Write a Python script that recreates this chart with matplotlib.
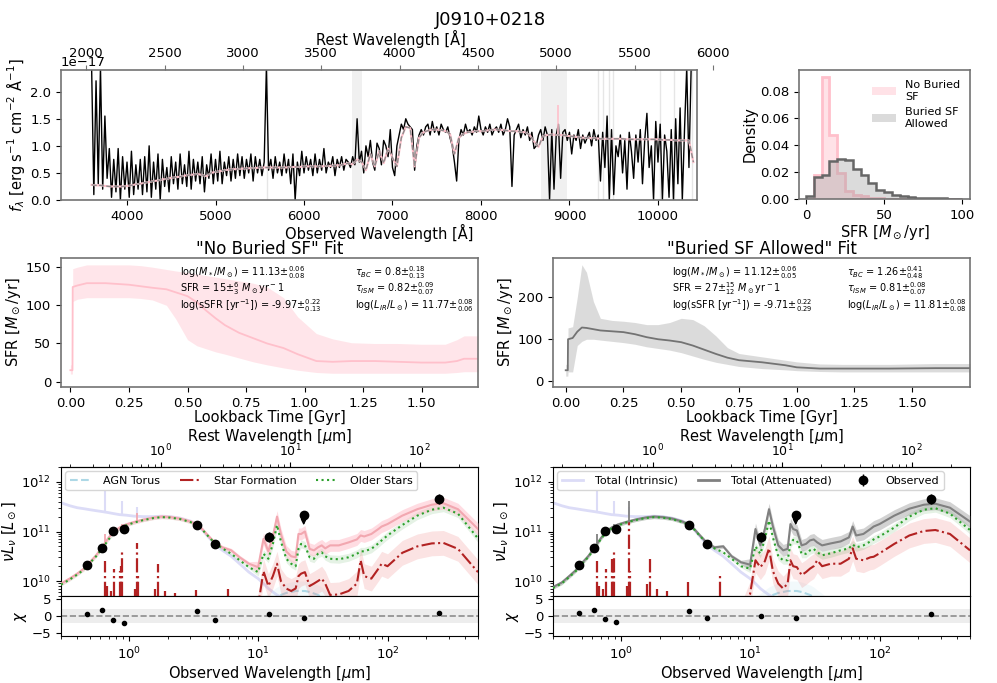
import numpy as np
import matplotlib.pyplot as plt
from matplotlib.lines import Line2D
from matplotlib.patches import Patch

W, H = 997, 683
one_plus_z = 1.77

# ---------------- optical spectrum (units of 1e-17 erg/s/cm2/A) ----------------
spec_wave = np.arange(3600, 10376, 25)
spec_flux = [
    2.45, 0.10, 2.20, 0.30, 2.45, 0.20, 1.55, 0.40,   # 3600
    0.95, 0.05, 0.75, 0.15, 0.95, 0.00, 0.80, 0.20,   # 3800
    0.70, 0.05, 0.90, 0.10, 0.65, 0.20, 0.75, 0.10,   # 4000
    0.80, 0.15, 1.00, 0.05, 0.70, 0.20, 0.85, 0.00,   # 4200
    0.75, 0.25, 0.60, 0.15, 0.80, 0.30, 0.70, 0.20,   # 4400
    0.85, 0.30, 0.65, 0.25, 0.90, 0.20, 0.75, 0.35,   # 4600
    0.70, 0.30, 0.80, 0.15, 0.65, 0.40, 0.85, 0.30,   # 4800
    0.75, 0.35, 0.90, 0.30, 0.70, 0.45, 0.80, 0.35,   # 5000
    0.75, 0.40, 0.85, 0.45, 0.80, 0.40, 0.75, 0.50,   # 5200
    0.85, 0.35, 0.80, 0.50, 0.75, 0.45, 0.70, 2.45,   # 5400
    0.55, 0.75, 0.40, 0.80, 0.50, 0.70, 0.45, 0.85,   # 5600
    0.50, 0.75, 0.30, 0.85, 0.00, 0.70, 0.45, 0.90,   # 5800
    0.50, 0.80, 0.55, 0.75, 0.45, 0.85, 0.50, 0.75,   # 6000
    0.55, 0.95, 0.50, 0.70, 0.60, 0.80, 0.45, 0.75,   # 6200
    0.60, 0.80, 0.55, 0.75, 0.70, 0.60, 0.80, 0.65,   # 6400
    1.50, 0.70, 0.90, 0.50, 1.00, 0.80, 1.10, 0.70,   # 6600
    0.55, 1.05, 0.95, 0.65, 1.10, 1.00, 0.80, 1.30,   # 6800
    0.60, 0.45, 1.00, 1.20, 1.40, 1.30, 1.50, 1.40,   # 7000
    1.35, 1.30, 0.55, 1.00, 1.20, 1.30, 1.20, 1.35,   # 7200
    1.40, 1.20, 1.45, 1.25, 1.35, 1.20, 1.40, 1.30,   # 7400
    1.25, 1.35, 1.15, 1.00, 0.70, 0.35, 1.10, 1.30,   # 7600
    1.20, 1.40, 1.25, 1.30, 1.20, 1.35, 1.25, 1.55,   # 7800
    1.30, 1.20, 1.35, 1.25, 1.40, 1.20, 1.30, 1.35,   # 8000
    1.25, 1.40, 1.20, 1.30, 1.50, 1.35, 0.25, 1.20,   # 8200
    1.30, 1.40, 1.15, 1.30, 1.20, 1.35, 1.10, 1.25,   # 8400
    0.95, 1.00, 1.20, 1.30, 1.10, 1.35, 1.20, 0.00,   # 8600
    1.30, 0.20, 1.20, 1.40, 0.40, 1.25, 1.30, 1.10,   # 8800
    1.25, 0.85, 1.20, 1.10, 1.30, 0.95, 1.20, 1.05,   # 9000
    1.15, 1.25, 1.00, 1.30, 1.10, 1.20, 0.35, 1.25,   # 9200
    0.60, 1.55, 0.00, 1.30, 0.10, 1.00, 0.80, 1.20,   # 9400
    0.50, 1.10, 0.20, 1.25, 0.90, 0.40, 1.20, 0.70,   # 9600
    1.30, 0.30, 1.10, 1.60, 0.60, 1.00, 0.00, 1.45,   # 9800
    0.70, 1.40, 0.00, 1.20, 0.90, 0.05, 1.30, 0.00,   # 10000
    1.50, 0.30, 1.70, 0.00, 1.30, 2.45, 0.60, 2.45,   # 10200
]
model_wave = np.arange(3600, 10401, 50)
model_flux = [
    0.28, 0.27, 0.27, 0.26, 0.25, 0.25, 0.25, 0.25, 0.26, 0.27,   # 3600
    0.29, 0.30, 0.32, 0.33, 0.35, 0.36, 0.38, 0.39, 0.41, 0.42,   # 4100
    0.43, 0.45, 0.46, 0.47, 0.48, 0.46, 0.44, 0.50, 0.52, 0.53,   # 4600
    0.55, 0.56, 0.57, 0.57, 0.58, 0.58, 0.59, 0.59, 0.60, 0.60,   # 5100
    0.60, 0.60, 0.60, 0.60, 0.60, 0.61, 0.61, 0.61, 0.62, 0.62,   # 5600
    0.62, 0.62, 0.62, 0.63, 0.63, 0.64, 0.64, 0.66, 0.68, 0.66,   # 6100
    0.75, 0.70, 0.55, 0.85, 0.62, 0.90, 0.68, 0.95, 0.78, 0.62,   # 6600
    1.15, 1.35, 1.33, 0.62, 1.15, 1.25, 1.28, 1.30, 1.30, 1.29,   # 7100
    1.27, 1.22, 0.85, 1.15, 1.22, 1.25, 1.26, 1.27, 1.27, 1.28,   # 7600
    1.29, 1.30, 1.30, 1.29, 1.28, 1.27, 1.27, 1.26, 1.25, 1.20,   # 8100
    1.08, 0.98, 1.18, 1.20, 1.21, 1.20, 1.20, 1.19, 1.18, 1.17,   # 8600
    1.16, 1.15, 1.15, 1.14, 1.14, 1.13, 1.13, 1.13, 1.13, 1.13,   # 9100
    1.13, 1.12, 1.12, 1.12, 1.12, 1.12, 1.12, 1.12, 1.12, 1.11,   # 9600
    1.11, 1.11, 1.10, 1.10, 1.10, 1.10, 0.70,                     # 10100
]
oiii_wave = 8870
oiii_peak = 1.75
mask_spans = [(6540, 6650), (8675, 8975)]
mask_lines = [5577, 9322, 9379, 9446, 9492, 10023, 10180, 10390]
rest_ticks = [2000, 2500, 3000, 3500, 4000, 4500, 5000, 5500, 6000]

# ---------------- SFR posterior histograms ----------------
hist_edges = np.arange(0, 101, 5)
hist_noburied = [0.0, 0.018, 0.091, 0.048, 0.0195, 0.0057, 0.003, 0.002, 0.001, 0.0005,
                 0.0003, 0, 0, 0, 0, 0, 0, 0, 0, 0]
hist_buried = [0.002, 0.0165, 0.018, 0.028, 0.030, 0.029, 0.0222, 0.018, 0.012, 0.007,
               0.005, 0.003, 0.002, 0.0015, 0.001, 0.0008, 0.0006, 0.0004, 0.0003, 0.0002]

# ---------------- star formation histories ----------------
sfh_t_nb = [0.0, 0.009, 0.01, 0.03, 0.07, 0.15, 0.25, 0.30, 0.35, 0.41, 0.45, 0.50, 0.54, 0.58, 0.62,
            0.66, 0.72, 0.78, 0.84, 0.91, 0.97, 1.05, 1.12, 1.20, 1.30, 1.40, 1.50, 1.60, 1.65, 1.68, 1.74]
sfh_med_nb = [15, 15, 124, 126, 129, 129, 127, 125, 123, 121, 117, 112, 104, 93, 83,
              74, 64, 57, 50, 44, 36, 27, 26, 27, 27, 26, 25, 25, 27, 30, 30]
sfh_lo_nb = [10, 10, 105, 108, 110, 110, 110, 109, 107, 100, 82, 55, 47, 43, 39,
             36, 31, 26, 22, 18, 15, 12, 11, 11, 11, 11, 11, 11, 12, 13, 13]
sfh_hi_nb = [22, 22, 148, 150, 153, 153, 153, 152, 150, 147, 145, 143, 141, 139, 137,
             135, 132, 129, 124, 110, 85, 63, 56, 51, 50, 50, 49, 49, 55, 60, 60]

sfh_t_b = [0.0, 0.009, 0.01, 0.03, 0.05, 0.07, 0.09, 0.12, 0.15, 0.20, 0.25, 0.30, 0.35, 0.40, 0.45,
           0.50, 0.55, 0.60, 0.65, 0.70, 0.75, 0.85, 0.95, 1.00, 1.10, 1.20, 1.40, 1.60, 1.75]
sfh_med_b = [26, 26, 100, 103, 118, 128, 127, 124, 121, 119, 117, 112, 105, 100, 97,
             93, 85, 75, 65, 56, 50, 45, 38, 33, 30, 30, 30, 31, 31]
sfh_lo_b = [12, 12, 22, 22, 85, 95, 100, 100, 98, 95, 92, 88, 82, 78, 74,
            68, 60, 52, 45, 40, 35, 30, 27, 25, 23, 22, 22, 22, 22]
sfh_hi_b = [40, 40, 127, 130, 200, 278, 260, 190, 150, 145, 143, 140, 135, 135, 140,
            150, 147, 132, 108, 80, 66, 58, 50, 46, 41, 40, 40, 42, 42]

text_nb = [r"log($M_*/M_\odot$) = 11.13$\pm^{0.06}_{0.08}$",
           r"SFR = 15$\pm^{6}_{3}$ $M_\odot$yr$^-1$",
           r"log(sSFR [yr$^{-1}$]) = -9.97$\pm^{0.22}_{0.13}$",
           r"$\tau_{BC}$ = 0.8$\pm^{0.18}_{0.13}$",
           r"$\tau_{ISM}$ = 0.82$\pm^{0.09}_{0.07}$",
           r"log($L_{IR}/L_\odot$) = 11.77$\pm^{0.08}_{0.06}$"]
text_b = [r"log($M_*/M_\odot$) = 11.12$\pm^{0.06}_{0.05}$",
          r"SFR = 27$\pm^{15}_{12}$ $M_\odot$yr$^-1$",
          r"log(sSFR [yr$^{-1}$]) = -9.71$\pm^{0.22}_{0.29}$",
          r"$\tau_{BC}$ = 1.26$\pm^{0.41}_{0.48}$",
          r"$\tau_{ISM}$ = 0.81$\pm^{0.08}_{0.07}$",
          r"log($L_{IR}/L_\odot$) = 11.81$\pm^{0.08}_{0.08}$"]

# ---------------- SEDs (observed-frame micron, log10 nuLnu / Lsun) ----------------
sed_wave = [0.30, 0.35, 0.40, 0.45, 0.50,
            0.56, 0.63, 0.70, 0.77, 0.85,
            0.95, 1.1, 1.3, 1.55, 1.8,
            2.1, 2.5, 3.0, 3.5, 4.0,
            4.6, 5.3, 6.2, 7.2, 8.5,
            10.0, 11.0, 12.0, 13.0, 14.0,
            15.0, 16.5, 18.0, 19.5, 20.5,
            21.5, 23.0, 25.0, 27.0, 29.0,
            31.0, 33.0, 36.0, 42.0, 50.0,
            58.0, 62.0, 66.0, 75.0, 85.0,
            90.0, 100.0, 130.0, 170.0, 220.0,
            270.0, 350.0, 500.0]

sed_intrinsic = [11.58, 11.52, 11.48, 11.46, 11.44,
                 11.42, 11.40, 11.38, 11.36, 11.34,
                 11.33, 11.31, 11.30, 11.30, 11.31,
                 11.30, 11.27, 11.21, 11.11, 10.93,
                 10.75, 10.62, 10.50, 10.35, 10.18,
                 10.05, 9.95, 9.85, 9.78, 9.72,
                 9.68, 9.62, 9.55, 9.50, 9.45,
                 9.42, 9.40, 9.35, 9.30, 9.25,
                 9.20, 9.15, 9.10, 9.00, 9.00,
                 9.00, 9.00, 9.00, 9.00, 9.00,
                 9.00, 9.00, 9.00, 9.00, 9.00,
                 9.00, 9.00, 9.00]
sed_agn = [9.0, 9.0, 9.0, 9.0, 9.0,
           9.0, 9.0, 9.0, 9.0, 9.0,
           9.0, 9.0, 9.0, 9.0, 9.0,
           9.0, 9.0, 9.0, 9.0, 9.0,
           9.0, 9.0, 9.0, 9.05, 9.2,
           9.4, 9.5, 9.55, 9.62, 9.68,
           9.72, 9.76, 9.78, 9.80, 9.80,
           9.80, 9.80, 9.78, 9.75, 9.72,
           9.68, 9.62, 9.55, 9.40, 9.20,
           9.0, 9.0, 9.0, 9.0, 9.0,
           9.0, 9.0, 9.0, 9.0, 9.0,
           9.0, 9.0, 9.0]

# "No Buried SF" fit
sed_tot_nb = [9.95, 10.05, 10.15, 10.25, 10.38,
              10.52, 10.70, 10.88, 11.00, 11.08,
              11.14, 11.19, 11.24, 11.28, 11.30,
              11.29, 11.26, 11.20, 11.12, 10.95,
              10.78, 10.68, 10.62, 10.48, 10.35,
              10.28, 10.85, 10.60, 10.90, 11.30,
              10.95, 10.60, 10.50, 10.48, 10.95,
              10.95, 11.00, 10.65, 10.62, 10.68,
              10.72, 10.66, 10.72, 10.72, 10.78,
              10.84, 10.92, 10.90, 10.95, 11.05,
              11.10, 11.15, 11.32, 11.45, 11.54,
              11.57, 11.45, 11.05]
sed_old_nb = [9.93, 10.03, 10.13, 10.23, 10.36,
              10.50, 10.67, 10.84, 10.97, 11.06,
              11.12, 11.18, 11.23, 11.27, 11.29,
              11.28, 11.25, 11.19, 11.11, 10.94,
              10.77, 10.66, 10.55, 10.42, 10.28,
              10.18, 10.55, 10.45, 10.75, 11.13,
              10.80, 10.45, 10.35, 10.30, 10.65,
              10.75, 10.72, 10.48, 10.45, 10.55,
              10.58, 10.50, 10.45, 10.44, 10.48,
              10.55, 10.60, 10.60, 10.65, 10.76,
              10.82, 10.92, 11.13, 11.32, 11.44,
              11.48, 11.36, 10.86]
sed_sf_nb = [9.0, 9.0, 9.0, 9.0, 9.0,
             9.0, 9.0, 9.0, 9.0, 9.0,
             9.0, 9.0, 9.0, 9.0, 9.0,
             9.0, 9.0, 9.0, 9.0, 9.0,
             9.0, 9.0, 9.0, 9.1, 9.3,
             9.5, 10.20, 9.90, 10.10, 10.35,
             10.00, 9.85, 9.80, 9.85, 10.10,
             10.15, 10.18, 9.90, 9.95, 10.00,
             10.05, 9.95, 9.72, 9.73, 9.80,
             9.95, 10.42, 10.10, 10.05, 10.25,
             10.35, 10.30, 10.57, 10.70, 10.76,
             10.77, 10.65, 10.18]

# "Buried SF Allowed" fit
sed_tot_b = [9.88, 9.97, 10.10, 10.22, 10.36,
             10.50, 10.68, 10.86, 11.00, 11.08,
             11.14, 11.19, 11.24, 11.28, 11.30,
             11.29, 11.26, 11.20, 11.12, 10.95,
             10.78, 10.68, 10.70, 10.50, 10.38,
             10.33, 11.05, 10.72, 11.05, 11.45,
             11.10, 10.72, 10.62, 10.65, 11.15,
             11.05, 11.02, 10.72, 10.75, 10.82,
             10.84, 10.78, 10.72, 10.76, 10.80,
             10.88, 11.10, 10.92, 10.95, 11.05,
             11.10, 11.15, 11.32, 11.46, 11.54,
             11.56, 11.48, 11.20]
sed_old_b = [9.86, 9.95, 10.08, 10.20, 10.34,
             10.48, 10.66, 10.84, 10.98, 11.06,
             11.12, 11.18, 11.23, 11.27, 11.29,
             11.28, 11.25, 11.19, 11.11, 10.94,
             10.77, 10.66, 10.58, 10.45, 10.30,
             10.25, 10.70, 10.55, 10.85, 11.22,
             10.88, 10.50, 10.42, 10.42, 10.75,
             10.83, 10.82, 10.55, 10.55, 10.62,
             10.65, 10.58, 10.52, 10.56, 10.62,
             10.66, 10.74, 10.68, 10.72, 10.80,
             10.84, 10.90, 11.08, 11.30, 11.44,
             11.47, 11.36, 11.03]
sed_sf_b = [9.0, 9.0, 9.0, 9.0, 9.0,
            9.0, 9.0, 9.0, 9.0, 9.0,
            9.0, 9.0, 9.0, 9.0, 9.0,
            9.0, 9.0, 9.0, 9.0, 9.0,
            9.0, 9.0, 9.0, 9.2, 9.4,
            9.74, 10.42, 10.28, 10.40, 10.66,
            10.20, 9.95, 9.85, 9.95, 10.42,
            10.30, 10.28, 10.12, 10.18, 10.25,
            10.30, 10.42, 10.30, 10.35, 10.35,
            10.45, 10.66, 10.45, 10.42, 10.48,
            10.49, 10.56, 10.75, 10.92, 11.01,
            11.03, 10.95, 10.62]

# band half-widths (dex)
err_tot = [0.04] * 25 + [0.12] * 33
err_old = [0.03] * 25 + [0.08] * 33
err_sf = [0.15] * 25 + [0.25] * 33
err_agn = [0.2] * 58

# emission lines from young stars
line_wave = [0.660, 0.685, 0.726, 0.768, 0.860, 0.878, 0.886, 1.115, 1.162, 1.190,
             1.605, 1.687, 1.917, 2.269, 3.319, 5.84]
line_peak_nb = [10.40, 9.90, 9.80, 10.25, 10.20, 10.30, 10.62, 9.85, 10.76, 10.10,
                9.85, 10.35, 9.80, 9.75, 9.82, 9.85]
line_peak_b = [10.40, 9.90, 9.85, 10.25, 10.45, 10.35, 10.62, 9.90, 11.20, 10.20,
               9.95, 10.45, 9.85, 9.80, 9.98, 10.15]
int_line_wave = [0.660, 0.886, 1.162]
int_line_peak = [11.82, 11.62, 11.50]
tot_line_wave = [0.660, 0.886, 1.162]
tot_line_peak_nb = [10.95, 11.15, 11.38]
tot_line_peak_b = [10.95, 11.15, 11.62]

# photometry
obs_wave = [0.477, 0.623, 0.763, 0.913, 3.37, 4.62, 12.1, 22.5, 250.0]
obs_logL = [10.32, 10.67, 11.01, 11.06, 11.13, 10.75, 10.895, 11.34, 11.65]
obs_err = [0.02, 0.02, 0.02, 0.02, 0.02, 0.02, 0.10, 0.0, 0.10]
obs_uplim = [False, False, False, False, False, False, False, True, False]
chi_nb = [0.55, 1.9, -1.1, -2.0, 1.44, -1.1, 0.55, -0.55, 0.8]
chi_b = [0.9, 1.8, -1.0, -1.8, 1.6, -0.7, 0.1, -0.7, 0.5]


plt.rcParams["font.family"] = "DejaVu Sans"
plt.rcParams["xtick.labelsize"] = 9.5
plt.rcParams["ytick.labelsize"] = 9.5
plt.rcParams["axes.labelsize"] = 10.5

fig = plt.figure(figsize=(W / 100, H / 100), dpi=100)


def px_axes(left, top, right, bottom, **kw):
    return fig.add_axes([left / W, 1 - bottom / H, (right - left) / W, (bottom - top) / H], **kw)


def gray_frame(ax):
    for sp in ax.spines.values():
        sp.set_color("0.45")
        sp.set_linewidth(1.2)


fig.text(0.492, 0.971, "J0910+0218", ha="center", va="center", fontsize=13)

# ---------------- spectrum ----------------
spec_xlim = (3254, 10441)
ax = px_axes(61, 70, 697, 200)
for a, b in mask_spans:
    ax.axvspan(a, b, color="0.94", lw=0, zorder=0)
for x in mask_lines:
    ax.axvline(x, color="0.9", lw=1, zorder=0)
ax.plot(spec_wave, np.array(spec_flux) * 1e-17, color="k", lw=1.0, zorder=2)
ax.plot(model_wave, np.array(model_flux) * 1e-17, color="pink", lw=1.5, zorder=3)
ax.vlines(oiii_wave, 1.2e-17, oiii_peak * 1e-17, color="pink", lw=1.2, zorder=3)
ax.plot(model_wave, np.array(model_flux) * 1e-17, color="0.55", ls="--", lw=1, zorder=4)
ax.set_xlim(spec_xlim)
ax.set_ylim(0, 2.4e-17)
ax.set_yticks(np.arange(0, 2.1, 0.5) * 1e-17)
ax.set_xlabel("Observed Wavelength [Å]", labelpad=1)
ax.set_ylabel(r"$f_\lambda$ [erg s$^{-1}$ cm$^{-2}$ Å$^{-1}$]", labelpad=2)
ax.tick_params(top=False)
gray_frame(ax)

# rest-frame axis: its tick labels run a little past the right edge of the box
top_right = 720
ang_per_px = (spec_xlim[1] - spec_xlim[0]) / (697 - 61)
axt = px_axes(61, 70, top_right, 200, frameon=False)
axt.set_xlim(spec_xlim[0] / one_plus_z,
             (spec_xlim[1] + (top_right - 697) * ang_per_px) / one_plus_z)
axt.set_xticks(rest_ticks)
axt.xaxis.set_ticks_position("top")
axt.xaxis.set_label_position("top")
axt.set_yticks([])
axt.set_xlabel("Rest Wavelength [Å]", labelpad=2)
axt.tick_params(axis="x", color="0.45")

# ---------------- SFR histogram ----------------
axh = px_axes(799, 70, 970, 199)
axh.stairs(hist_noburied, hist_edges, fill=True, color="pink", alpha=0.45)
axh.stairs(hist_noburied, hist_edges, color="pink", lw=2)
axh.stairs(hist_buried, hist_edges, fill=True, color="0.6", alpha=0.35)
axh.stairs(hist_buried, hist_edges, color="0.4", lw=1.8)
axh.set_xlim(-4.5, 105)
axh.set_ylim(0, 0.096)
axh.set_xticks([0, 50, 100])
axh.set_yticks([0, 0.02, 0.04, 0.06, 0.08])
axh.set_xlabel(r"SFR [$M_\odot$/yr]", labelpad=1)
axh.set_ylabel("Density", labelpad=2)
gray_frame(axh)
axh.legend([Patch(facecolor="pink", alpha=0.45), Patch(facecolor="0.6", alpha=0.35)],
           ["No Buried\nSF", "Buried SF\nAllowed"], loc="upper right", frameon=False,
           fontsize=8, handlelength=2.2, labelspacing=0.5)


# ---------------- SFH panels ----------------
def draw_sfh(box, t, med, lo, hi, line_color, band_color, band_alpha, title, texts, ylim, xlim, yticks):
    a = px_axes(*box)
    a.fill_between(t, lo, hi, color=band_color, alpha=band_alpha, lw=0)
    a.plot(t, med, color=line_color, lw=1.3)
    a.set_xlim(xlim)
    a.set_ylim(ylim)
    a.set_yticks(yticks)
    a.set_xticks(np.arange(0, 1.51, 0.25))
    a.set_xlabel("Lookback Time [Gyr]", labelpad=0)
    a.set_ylabel(r"SFR [$M_\odot$/yr]", labelpad=2)
    a.set_title(title, fontsize=12, pad=3)
    gray_frame(a)
    for i, s in enumerate(texts):
        x = 0.285 if i < 3 else 0.705
        y = [0.89, 0.76, 0.63][i % 3]
        a.text(x, y, s, transform=a.transAxes, fontsize=7, va="center")
    return a


draw_sfh((61, 258, 478, 387), sfh_t_nb, sfh_med_nb, sfh_lo_nb, sfh_hi_nb, "pink", "pink", 0.4,
         '"No Buried SF" Fit', text_nb, (-7, 162), (-0.04, 1.74), [0, 50, 100, 150])
draw_sfh((553, 258, 970, 387), sfh_t_b, sfh_med_b, sfh_lo_b, sfh_hi_b, "0.45", "0.75", 0.55,
         '"Buried SF Allowed" Fit', text_b, (-14, 294), (-0.055, 1.75), [0, 100, 200])


# ---------------- SED panels ----------------
def band(ax, w, vals, err, color, alpha, z):
    v = np.array(vals)
    e = np.array(err)
    ax.fill_between(w, 10 ** (v - e), 10 ** (v + e), color=color, alpha=alpha, lw=0, zorder=z)


def draw_sed(left, right, tot, tot_color, tot_band, tot_alpha, old, sf, peaks, tot_peaks, chi):
    ax = px_axes(left, 467, right, 596)
    axc = px_axes(left, 596, right, 636, sharex=ax)
    w = np.array(sed_wave)
    lw_ = np.log10(w)
    bottom = 5e9

    # intrinsic
    int_col = "#dcdcf7"
    ax.plot(w, 10 ** np.array(sed_intrinsic), color=int_col, lw=2, zorder=1)
    base = np.interp(np.log10(int_line_wave), lw_, sed_intrinsic)
    ax.vlines(int_line_wave, 10 ** base, 10 ** np.array(int_line_peak), color=int_col, lw=1.5, zorder=1)

    # AGN torus
    band(ax, w, sed_agn, err_agn, "lightblue", 0.15, 1)
    ax.plot(w, 10 ** np.array(sed_agn), color="lightblue", ls="--", lw=1.5, zorder=2)

    # star formation
    band(ax, w, sf, err_sf, "lightcoral", 0.22, 2)
    ax.plot(w, 10 ** np.array(sf), color="firebrick", ls="-.", lw=1.5, zorder=4)
    ax.vlines(line_wave, bottom, 10 ** np.array(peaks), color="firebrick", linestyles="-.", lw=1.6, zorder=4)

    # older stars
    band(ax, w, old, err_old, "green", 0.1, 2)
    ax.plot(w, 10 ** np.array(old), color="tab:green", ls=":", lw=1.5, zorder=5)

    # total attenuated
    band(ax, w, tot, err_tot, tot_band, tot_alpha, 3)
    ax.plot(w, 10 ** np.array(tot), color=tot_color, lw=1.5, zorder=4.5)
    base = np.interp(np.log10(tot_line_wave), lw_, tot)
    ax.vlines(tot_line_wave, 10 ** base, 10 ** np.array(tot_peaks), color=tot_color, lw=1.3, zorder=4.5)

    # photometry
    ow = np.array(obs_wave)
    ol = 10 ** np.array(obs_logL)
    oe = np.array(obs_err)
    det = ~np.array(obs_uplim)
    yerr = [ol[det] * (1 - 10 ** -oe[det]), ol[det] * (10 ** oe[det] - 1)]
    eb = ax.errorbar(ow[det], ol[det], yerr=yerr, fmt="o", color="k", ms=6, elinewidth=1, capsize=0, zorder=10)
    for x, y in zip(ow[~det], ol[~det]):
        ax.plot(x, y, "o", color="k", ms=6, zorder=10)
        ax.annotate("", xy=(x, y / 10 ** 0.27), xytext=(x, y),
                    arrowprops=dict(arrowstyle="-|>", color="k", lw=1, mutation_scale=8), zorder=10)

    ax.set_xscale("log")
    ax.set_yscale("log")
    ax.set_xlim(0.3, 500)
    ax.set_ylim(bottom, 2e12)
    ax.tick_params(labelbottom=False)
    ax.set_ylabel(r"$\nu L_\nu$ [$L_\odot$]", labelpad=2)
    sec = ax.secondary_xaxis("top", functions=(lambda x: x / one_plus_z, lambda x: x * one_plus_z))
    sec.set_xticks([1, 10, 100])
    sec.tick_params(labelsize=9, pad=2)
    sec.set_xlabel(r"Rest Wavelength [$\mu$m]", labelpad=1)

    axc.axhspan(-2, 2, color="0.93", lw=0, zorder=0)
    axc.axhline(0, color="0.55", ls="--", lw=1.2, zorder=1)
    axc.plot(ow, chi, "o", color="k", ms=3, zorder=3)
    axc.set_ylim(-6, 6)
    axc.set_yticks([-5, 0, 5])
    axc.set_xlabel(r"Observed Wavelength [$\mu$m]", labelpad=1)
    axc.set_ylabel(r"$\chi$", labelpad=2)
    return ax, eb


leg_kw = dict(ncol=3, loc="upper left", fontsize=8, handlelength=1.9, handletextpad=1.1,
              columnspacing=1.8, borderaxespad=0.4)

ax_l, _ = draw_sed(61, 478, sed_tot_nb, "#f2a7b0", "pink", 0.55, sed_old_nb, sed_sf_nb,
                   line_peak_nb, tot_line_peak_nb, chi_nb)
ax_l.legend([Line2D([], [], color="lightblue", ls="--", lw=1.5),
             Line2D([], [], color="firebrick", ls="-.", lw=1.5),
             Line2D([], [], color="tab:green", ls=":", lw=1.5)],
            ["AGN Torus", "Star Formation", "Older Stars"], **leg_kw)

ax_r, eb_r = draw_sed(553, 970, sed_tot_b, "0.5", "0.5", 0.35, sed_old_b, sed_sf_b,
                      line_peak_b, tot_line_peak_b, chi_b)
ax_r.legend([Line2D([], [], color="#dcdcf7", lw=2), Line2D([], [], color="0.5", lw=2), eb_r],
            ["Total (Intrinsic)", "Total (Attenuated)", "Observed"], **leg_kw)

fig.savefig("out.png", dpi=100)
